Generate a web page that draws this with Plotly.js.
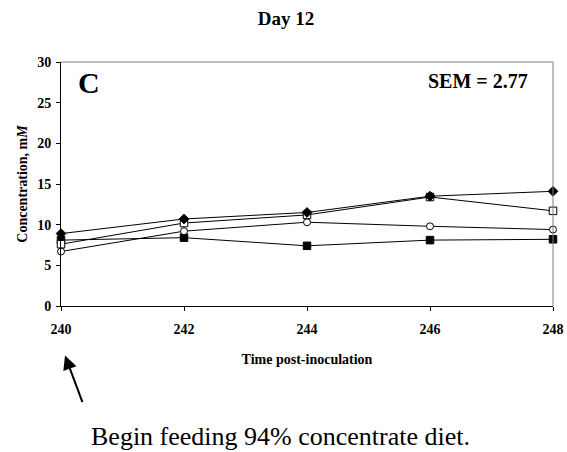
<!DOCTYPE html>
<html>
<head>
<meta charset="utf-8">
<script src="https://cdn.plot.ly/plotly-3.0.1.min.js"></script>
<style>html,body{margin:0;padding:0;background:#fff;}#chart{width:567px;height:452px;}</style>
</head>
<body>
<div id="chart"></div>
<script>
const hours = [240, 242, 244, 246, 248];
const filledDiamond = [8.9, 10.7, 11.5, 13.5, 14.1];
const openSquare = [7.6, 10.2, 11.2, 13.4, 11.7];
const openCircle = [6.7, 9.2, 10.3, 9.8, 9.4];
const filledSquare = [8.1, 8.4, 7.4, 8.1, 8.2];
const xTicks = [240, 242, 244, 246, 248];
const yTicks = [0, 5, 10, 15, 20, 25, 30];

const serif = "Liberation Serif, Times New Roman, serif";
function tr(y, sym, fill, size) {
  return {
    x: hours, y: y, type: 'scatter', mode: 'lines+markers', cliponaxis: false,
    line: {color: '#000', width: 1},
    marker: {symbol: sym, size: size, color: fill, line: {color: '#000', width: 1}},
    showlegend: false
  };
}
const data = [
  tr(filledSquare, 'square', '#000', 7.5),
  tr(openCircle, 'circle', '#fff', 7),
  tr(openSquare, 'square', '#fff', 7.5),
  tr(filledDiamond, 'diamond', '#000', 7.5)
];
// plot area in pixels: x 61..553, y 62.7..305.7
const px = v => (v - 61) / 492;
const py = v => (305.7 - v) / 243;
const layout = {
  width: 567, height: 452,
  margin: {l: 61, r: 14, t: 62, b: 146},
  paper_bgcolor: '#fff', plot_bgcolor: '#fff',
  font: {family: serif, color: '#000'},
  title: {text: '<b>Day 12</b>', font: {family: serif, size: 19, color: '#000'}, x: 286/567, xanchor: 'center', y: 1 - 18/452, yanchor: 'middle'},
  xaxis: {
    range: [240, 248], tickvals: xTicks, ticktext: xTicks.map(v => '<b>' + v + '</b>'),
    ticks: 'outside', ticklen: 4, tickcolor: '#000', showgrid: false, zeroline: false,
    showline: true, linecolor: '#000', linewidth: 1, ticklabelstandoff: 6,
    tickfont: {family: serif, size: 14, color: '#000'},
    title: {text: '<b>Time post-inoculation</b>', font: {family: serif, size: 14, color: '#000'}, standoff: 18}
  },
  yaxis: {
    range: [0, 30], tickvals: yTicks, ticktext: yTicks.map(v => '<b>' + v + '</b>'),
    ticks: 'outside', ticklen: 4, tickcolor: '#000', showgrid: false, zeroline: false,
    showline: true, linecolor: '#000', linewidth: 1, ticklabelstandoff: 2,
    tickfont: {family: serif, size: 14, color: '#000'},
    title: {text: '<b>Concentration, m<i>M</i></b>', font: {family: serif, size: 14, color: '#000'}, standoff: 6}
  },
  shapes: [
    {type: 'line', xref: 'paper', yref: 'paper', x0: 0, x1: 1, y0: 1, y1: 1, line: {color: '#808080', width: 1}},
    {type: 'line', xref: 'paper', yref: 'paper', x0: 1, x1: 1, y0: 0, y1: 1, line: {color: '#808080', width: 1}}
  ],
  annotations: [
    {text: '<b>C</b>', xref: 'paper', yref: 'paper', x: px(89), y: py(83), xanchor: 'center', yanchor: 'middle', showarrow: false, font: {family: serif, size: 30, color: '#000'}},
    {text: '<b>SEM = 2.77</b>', xref: 'paper', yref: 'paper', x: px(478), y: py(82), xanchor: 'center', yanchor: 'middle', showarrow: false, font: {family: serif, size: 20, color: '#000'}},
    {text: '', xref: 'paper', yref: 'paper', x: px(65), y: py(355), ax: px(83), ay: py(403), axref: 'paper', ayref: 'paper', showarrow: true, arrowhead: 2, arrowsize: 1.4, arrowwidth: 2, arrowcolor: '#000'},
    {text: 'Begin feeding 94% concentrate diet.', xref: 'paper', yref: 'paper', x: px(280), y: py(436), xanchor: 'center', yanchor: 'middle', showarrow: false, font: {family: serif, size: 26, color: '#000'}}
  ]
};
Plotly.newPlot('chart', data, layout, {displayModeBar: false, staticPlot: true});
</script>
</body>
</html>
